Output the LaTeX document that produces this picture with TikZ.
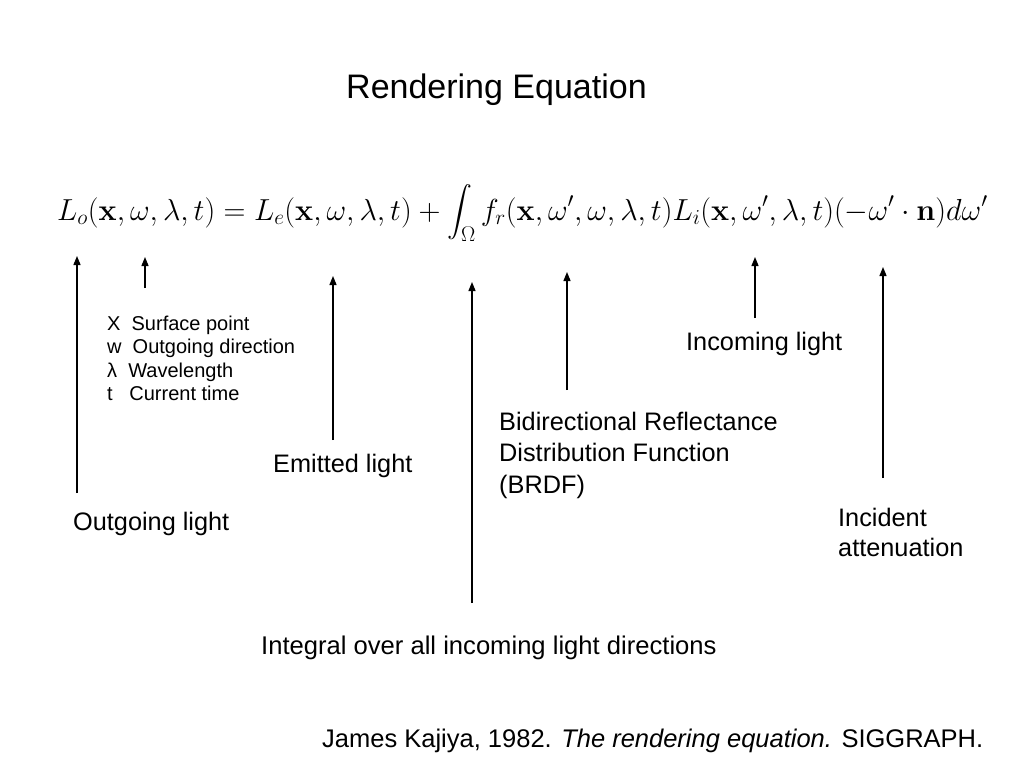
\documentclass[tikz,border=0pt]{standalone}
\usepackage{fix-cm}
\usepackage{amsmath}
\usepackage[no-math]{fontspec}
\setmainfont{Liberation Sans}
\usetikzlibrary{arrows.meta}
\tikzset{x=1pt,y=-1pt,
    every node/.style={
        inner sep=0pt,
        anchor=base west},
    label/.style={
        font=\fontsize{25.3}{31.5}\selectfont,
        align=left},
    every edge/.style={
        draw,
        -{Triangle[length=9pt,width=7pt]},
        line width=1.3pt}}

\begin{document}
\begin{tikzpicture}
        \useasboundingbox (0,0) rectangle (1024,768);

        \node[font=\fontsize{34}{40}\selectfont] (title) at (346,98) {Rendering Equation};
        \node[font=\fontsize{30.4}{36}\selectfont] (eq) at (57,220)
            {$\displaystyle L_o(\mathbf{x},\omega,\lambda,t) = L_e(\mathbf{x},\omega,\lambda,t) + \int_\Omega f_r(\mathbf{x},\omega',\omega,\lambda,t)L_i(\mathbf{x},\omega',\lambda,t)(-\omega'\cdot\mathbf{n})d\omega'$};

        % multi-line nodes: placed at the baseline of their last line
        \node[font=\fontsize{20}{23.5}\selectfont,align=left] (params) at (107,400.5)
            {X\ \ Surface point\\w\ \ Outgoing direction\\λ\ \ Wavelength\\t\ \ \ Current time};
        \node[label] (outgoing) at (73,530) {Outgoing light};
        \node[label] (emitted) at (273,472.7) {Emitted light};
        \node[label] (brdf) at (499,493.4) {Bidirectional Reflectance\\Distribution Function\\(BRDF)};
        \node[label] (incoming) at (686,350) {Incoming light};
        \node[label,font=\fontsize{25.3}{30.7}\selectfont] (incident) at (838,556.7) {Incident\\attenuation};
        \node[label,font=\fontsize{25.6}{31}\selectfont] (integral) at (261,654) {Integral over all incoming light directions};
        \node[label,font=\fontsize{25.5}{30}\selectfont] (cite) at (322,747)
            {James Kajiya, 1982. \textit{The rendering equation.} SIGGRAPH.};

        \coordinate (out-a) at (77,493);
        \coordinate (out-b) at (77,256);
        \coordinate (par-a) at (145,288);
        \coordinate (par-b) at (145,257);
        \coordinate (emi-a) at (333,440);
        \coordinate (emi-b) at (333,276);
        \coordinate (int-a) at (472,603);
        \coordinate (int-b) at (472,282);
        \coordinate (brdf-a) at (567,390);
        \coordinate (brdf-b) at (567,272);
        \coordinate (inc-a) at (755,318);
        \coordinate (inc-b) at (755,257);
        \coordinate (att-a) at (883,478);
        \coordinate (att-b) at (883,267);

        \draw (out-a) edge (out-b);
        \draw (par-a) edge (par-b);
        \draw (emi-a) edge (emi-b);
        \draw (int-a) edge (int-b);
        \draw (brdf-a) edge (brdf-b);
        \draw (inc-a) edge (inc-b);
        \draw (att-a) edge (att-b);
    \end{tikzpicture}
\end{document}
